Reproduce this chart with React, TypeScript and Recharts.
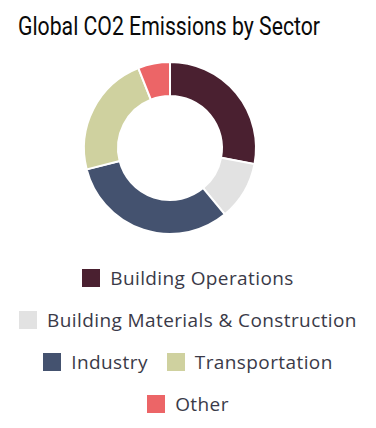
import { Cell, Legend, Pie, PieChart } from "recharts";

const sectors = [
  "Building Operations",
  "Building Materials & Construction",
  "Industry",
  "Transportation",
  "Other",
];
const shares = [28, 11, 32, 23, 6];
const colors = ["#4a2030", "#e2e2e2", "#44526f", "#cfd19f", "#ec6567"];

const data = sectors.map((name, i) => ({ name, value: shares[i] }));

// legend drawn from the same arrays so the order stays as in the source
const LegendBox = () => (
  <div
    style={{
      display: "flex",
      flexWrap: "wrap",
      justifyContent: "center",
      rowGap: 19,
      columnGap: 19,
      fontFamily: "'Open Sans', sans-serif",
      fontSize: 19,
      letterSpacing: 0.4,
      color: "#3a3a48",
    }}
  >
    {sectors.map((s, i) => (
      <div key={s} style={{ display: "flex", alignItems: "center", height: 23 }}>
        <span
          style={{
            width: 18,
            height: 18,
            background: colors[i],
            marginRight: 10,
            display: "inline-block",
          }}
        />
        <span>{s}</span>
      </div>
    ))}
  </div>
);

const App = () => {
  return (
    <div style={{ position: "relative", width: 376, height: 428 }}>
      <style>{`body{margin:0}`}</style>
      <svg
        width={376}
        height={50}
        style={{ position: "absolute", left: 0, top: 0, zIndex: 2 }}
      >
        <text
          x={18}
          y={35}
          textLength={302}
          lengthAdjust="spacingAndGlyphs"
          fontFamily="Roboto, sans-serif"
          fontWeight={400}
          fontSize={25}
          fill="#0a0a0a"
        >
          Global CO2 Emissions by Sector
        </text>
      </svg>
      <PieChart width={376} height={428} margin={{ top: 0, right: 0, bottom: 0, left: 0 }}>
        <Pie
          data={data}
          dataKey="value"
          nameKey="name"
          cx={170}
          cy={148}
          innerRadius={52}
          outerRadius={86}
          startAngle={90}
          endAngle={-270}
          stroke="#fff"
          strokeWidth={2}
          isAnimationActive={false}
        >
          {data.map((d, i) => (
            <Cell key={d.name} fill={colors[i]} />
          ))}
        </Pie>
        <Legend
          content={<LegendBox />}
          wrapperStyle={{ top: 266, left: 0, width: 376 }}
        />
      </PieChart>
    </div>
  );
};

export default App;
